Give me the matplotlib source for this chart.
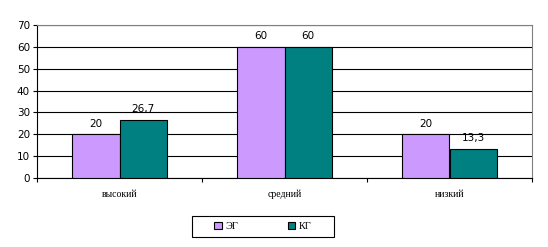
import matplotlib
matplotlib.use("Agg")
import matplotlib.pyplot as plt
from matplotlib.patches import Rectangle
import numpy as np

categories = ["высокий", "средний", "низкий"]
series_names = ["ЭГ", "КГ"]
eg_values = [20, 60, 20]
kg_values = [26.7, 60, 13.3]
eg_labels = ["20", "60", "20"]
kg_labels = ["26,7", "60", "13,3"]
y_ticks = [0, 10, 20, 30, 40, 50, 60, 70]

fig = plt.figure(figsize=(5.48, 2.47), dpi=100)
ax = fig.add_axes([37/548, 1-178/247, (532-37)/548, (178-25)/247])

x = np.arange(len(categories))
w = 0.285
b1 = ax.bar(x - w/2, eg_values, w, color="#cc99ff", edgecolor="black", linewidth=0.8, label=series_names[0], zorder=3)
b2 = ax.bar(x + w/2, kg_values, w, color="#008080", edgecolor="black", linewidth=0.8, label=series_names[1], zorder=3)

for rect, lab in zip(b1, eg_labels):
    ax.text(rect.get_x() + rect.get_width()/2, rect.get_height() + 2.5, lab,
            ha="center", va="bottom", fontsize=7.5, family="DejaVu Sans")
for rect, lab in zip(b2, kg_labels):
    ax.text(rect.get_x() + rect.get_width()/2, rect.get_height() + 2.5, lab,
            ha="center", va="bottom", fontsize=7.5, family="DejaVu Sans")

ax.set_xlim(-0.5, 2.5)
ax.set_ylim(0, 70)
ax.set_yticks(y_ticks)
ax.set_yticklabels([str(t) for t in y_ticks], fontsize=7.5, family="DejaVu Sans")
ax.yaxis.grid(True, color="black", linewidth=0.8, zorder=0)
ax.set_axisbelow(True)

ax.set_xticks([-0.5, 0.5, 1.5, 2.5])
ax.set_xticklabels([])
ax.tick_params(axis="x", length=3, width=0.8, direction="out")
ax.tick_params(axis="y", length=3, width=0.8, direction="out", pad=2)
for xi, c in zip(x, categories):
    ax.text(xi, -0.105, c, transform=ax.get_xaxis_transform(), ha="center", va="center",
            fontsize=7, family="Liberation Serif")

ax.spines["left"].set_color("black")
ax.spines["bottom"].set_color("black")
ax.spines["top"].set_color("#808080")
ax.spines["right"].set_color("#808080")
for s in ax.spines.values():
    s.set_linewidth(0.8)

# legend frame
fig.patches.append(Rectangle((192/548, 1-237/247), 142/548, 21/247, transform=fig.transFigure,
                             fill=False, edgecolor="black", linewidth=0.8))
leg = fig.legend(handles=[b1, b2], labels=series_names, loc="center",
                 bbox_to_anchor=(263/548, 1-226.5/247), ncol=2, frameon=False,
                 handlelength=0.7, handleheight=0.7,
                 columnspacing=4.7, handletextpad=0.4, borderpad=0, borderaxespad=0,
                 prop={"family": "Liberation Serif", "size": 7.5})

fig.savefig("out.png", dpi=100)
